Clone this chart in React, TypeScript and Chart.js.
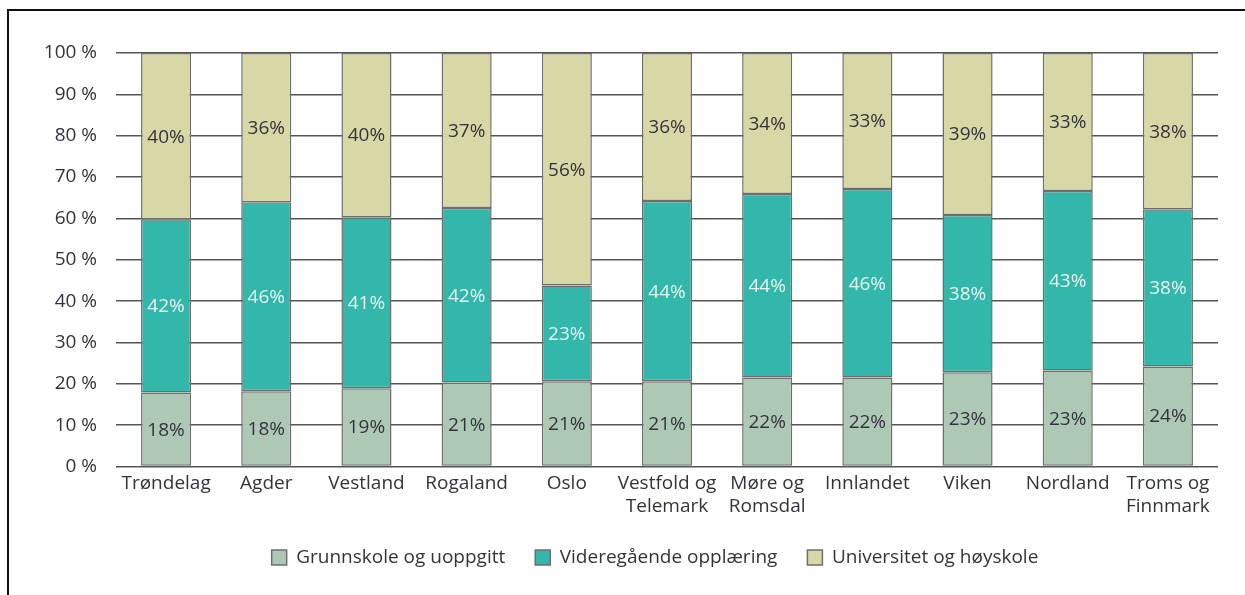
import React, { useEffect, useRef } from "react";
import { Chart, registerables } from "chart.js";

Chart.register(...registerables);

const categories: (string | string[])[] = [
  "Trøndelag",
  "Agder",
  "Vestland",
  "Rogaland",
  "Oslo",
  ["Vestfold og", "Telemark"],
  ["Møre og", "Romsdal"],
  "Innlandet",
  "Viken",
  "Nordland",
  ["Troms og", "Finnmark"],
];

const seriesNames = ["Grunnskole og uoppgitt", "Videregående opplæring", "Universitet og høyskole"];

// measured segment heights (percent)
const grunnskole = [17.9, 18.2, 18.9, 20.3, 20.6, 20.6, 21.5, 21.5, 22.8, 23.2, 24.2];
const videregaende = [41.9, 45.7, 41.4, 42.2, 23.2, 43.6, 44.4, 45.6, 38.0, 43.4, 38.0];
const universitet = [40.2, 36.1, 39.7, 37.5, 56.2, 35.8, 34.1, 32.9, 39.2, 33.4, 37.8];

// printed labels
const grunnskoleLabels = [18, 18, 19, 21, 21, 21, 22, 22, 23, 23, 24];
const videregaendeLabels = [42, 46, 41, 42, 23, 44, 44, 46, 38, 43, 38];
const universitetLabels = [40, 36, 40, 37, 56, 36, 34, 33, 39, 33, 38];

const yTicks = [0, 10, 20, 30, 40, 50, 60, 70, 80, 90, 100];

const FONT = "'Open Sans', 'Noto Sans', sans-serif";
const FS = 19;
const TEXT = "#33333d";

const labelPlugin = {
  id: "segmentLabels",
  afterDatasetsDraw(chart: any) {
    const { ctx } = chart;
    const labelSets = [grunnskoleLabels, videregaendeLabels, universitetLabels];
    const colors = [TEXT, "#e6f4f1", TEXT];
    ctx.save();
    ctx.font = `${FS}px ${FONT}`;
    ctx.textAlign = "center";
    ctx.textBaseline = "middle";
    chart.data.datasets.forEach((_ds: any, di: number) => {
      const meta = chart.getDatasetMeta(di);
      meta.data.forEach((el: any, i: number) => {
        const { x, y, base } = el.getProps(["x", "y", "base"], true);
        ctx.fillStyle = colors[di];
        ctx.fillText(`${labelSets[di][i]}%`, x, (y + base) / 2 + 1);
      });
    });
    ctx.restore();
  },
};

const legendShift = {
  id: "legendShift",
  afterLayout(chart: any) {
    const lg = chart.legend;
    if (lg) {
      lg.left += 46;
      lg.right += 46;
    }
  },
};

export default function App() {
  const ref = useRef<HTMLCanvasElement | null>(null);

  useEffect(() => {
    if (!ref.current) return;
    const border = "#6e6e6e";
    const chart = new Chart(ref.current, {
      type: "bar",
      data: {
        labels: categories,
        datasets: [
          {
            label: seriesNames[0],
            data: grunnskole,
            backgroundColor: "#aec8b6",
            borderColor: border,
            borderWidth: 1.5,
            borderSkipped: false,
          },
          {
            label: seriesNames[1],
            data: videregaende,
            backgroundColor: "#33b7aa",
            borderColor: border,
            borderWidth: 1.5,
            borderSkipped: false,
          },
          {
            label: seriesNames[2],
            data: universitet,
            backgroundColor: "#d8d8a7",
            borderColor: border,
            borderWidth: 1.5,
            borderSkipped: false,
          },
        ],
      },
      options: {
        responsive: false,
        animation: false,
        layout: { padding: { left: 0, right: 27, top: 53, bottom: 18 } },
        datasets: { bar: { categoryPercentage: 1, barPercentage: 0.5 } },
        plugins: {
          tooltip: { enabled: false },
          legend: {
            position: "bottom",
            align: "center",
            labels: {
              font: { family: FONT, size: FS },
              color: TEXT,
              boxWidth: 15,
              boxHeight: 15,
              padding: 30,
            },
          },
        },
        scales: {
          x: {
            stacked: true,
            grid: { display: false, drawTicks: false },
            border: { display: false },
            ticks: {
              font: { family: FONT, size: FS, lineHeight: 1.21 },
              color: TEXT,
              padding: 6,
              maxRotation: 0,
              autoSkip: false,
            },
            afterFit: (s: any) => {
              s.height = 51.5;
            },
          },
          y: {
            stacked: true,
            min: 0,
            max: 100,
            afterBuildTicks: (s: any) => {
              s.ticks = yTicks.map((v) => ({ value: v }));
            },
            grid: { color: "#555555", lineWidth: 1.5, drawTicks: false },
            border: { display: false },
            ticks: {
              font: { family: FONT, size: FS },
              color: TEXT,
              padding: 19,
              callback: (v: any) => `${v} %`,
            },
            afterFit: (s: any) => {
              s.width = 116;
            },
          },
        },
      },
      plugins: [labelPlugin, legendShift],
    });
    return () => chart.destroy();
  }, []);

  return (
    <div>
      <div
        style={{
          position: "absolute",
          left: 7,
          top: 9,
          width: 1238,
          height: 586,
          boxSizing: "border-box",
          borderTop: "2px solid #111",
          borderLeft: "2px solid #111",
        }}
      />
      <div style={{ position: "absolute", left: 0, top: 0, width: 1245, height: 595 }}>
        <canvas ref={ref} width={1245} height={595} />
      </div>
    </div>
  );
}
